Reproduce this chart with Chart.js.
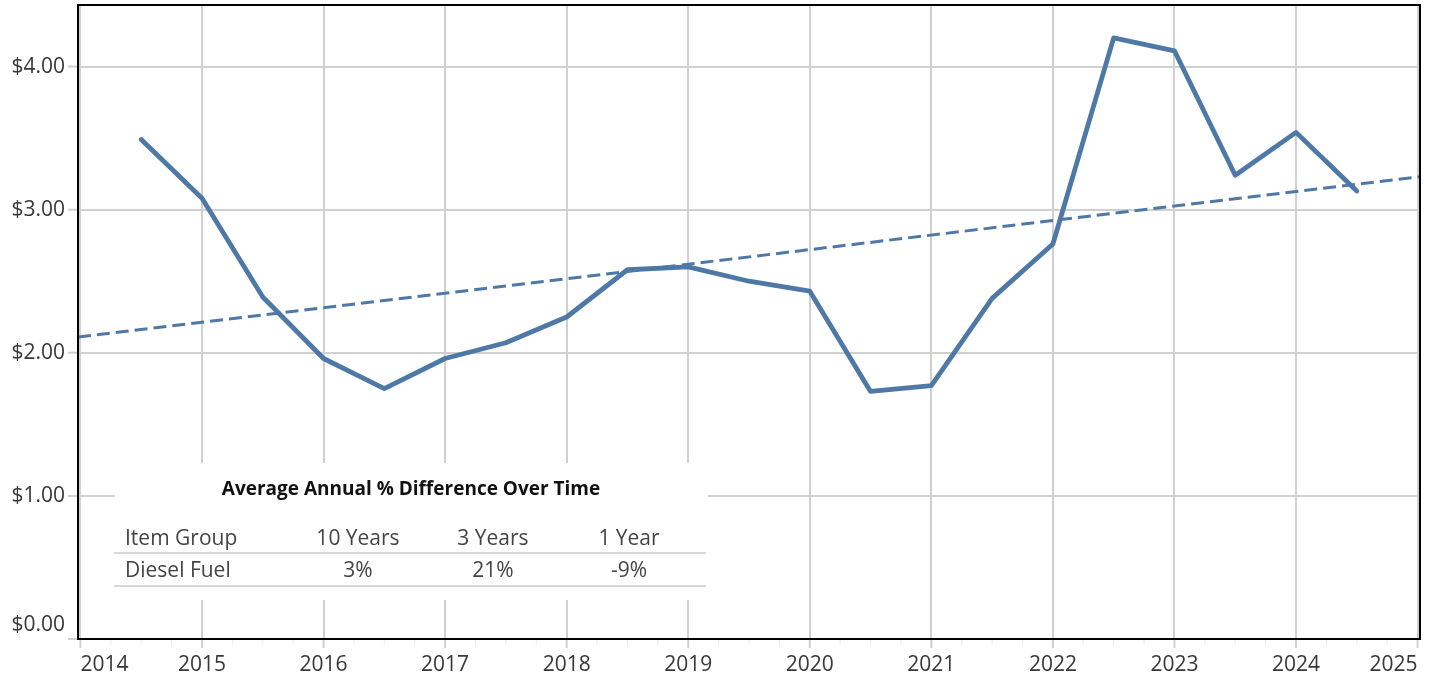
<!DOCTYPE html>
<html>
<head>
<meta charset="utf-8">
<script src="https://cdn.jsdelivr.net/npm/chart.js@4.4.1/dist/chart.umd.min.js"></script>
<style>
    html, body { margin: 0; padding: 0; background: #ffffff; }
    #wrap { width: 1434px; height: 679px; }
</style>
</head>
<body>
<div id="wrap"><canvas id="priceChart" width="1434" height="679"></canvas></div>
<script>
// half-year periods and average diesel price ($/gal)
const periods = [2014.5, 2015, 2015.5, 2016, 2016.5, 2017, 2017.5, 2018, 2018.5, 2019, 2019.5,
    2020, 2020.5, 2021, 2021.5, 2022, 2022.5, 2023, 2023.5, 2024, 2024.5];
const dieselPrice = [3.49, 3.08, 2.39, 1.96, 1.75, 1.96, 2.07, 2.25, 2.58, 2.60, 2.50,
    2.43, 1.73, 1.77, 2.38, 2.76, 4.20, 4.11, 3.24, 3.54, 3.13];

// trend line end points
const trendYears = [2013.98, 2025.02];
const trendValues = [2.11, 3.23];

const xTickYears = [2014, 2015, 2016, 2017, 2018, 2019, 2020, 2021, 2022, 2023, 2024, 2025];
const yTickValues = [0, 1, 2, 3, 4];

// summary table
const tableTitle = 'Average Annual % Difference Over Time';
const tableHeaders = ['Item Group', '10 Years', '3 Years', '1 Year'];
const tableRow = ['Diesel Fuel', '3%', '21%', '-9%'];

const FONT = '"Open Sans", "Noto Sans", sans-serif';
const LINE_COLOR = '#4e79a7';
const GRID_COLOR = '#d0d0d0';

const overlayPlugin = {
    id: 'overlay',
    beforeDatasetsDraw(chart) {
        const ctx = chart.ctx;
        // white annotation box over the grid
        ctx.save();
        ctx.fillStyle = '#ffffff';
        ctx.fillRect(115, 463, 593, 137);

        ctx.fillStyle = '#111111';
        ctx.font = 'bold 19px ' + FONT;
        ctx.textAlign = 'center';
        ctx.textBaseline = 'middle';
        ctx.fillText(tableTitle, 411, 490);

        const colX = [125, 358, 493, 629];
        ctx.font = '21px ' + FONT;
        ctx.fillStyle = '#444444';
        tableHeaders.forEach((h, i) => {
            ctx.textAlign = i === 0 ? 'left' : 'center';
            ctx.fillText(h, colX[i], 539);
        });
        tableRow.forEach((v, i) => {
            ctx.textAlign = i === 0 ? 'left' : 'center';
            ctx.fillText(v, colX[i], 571);
        });

        ctx.strokeStyle = '#cccccc';
        ctx.lineWidth = 1.5;
        ctx.beginPath();
        ctx.moveTo(114, 553);
        ctx.lineTo(706, 553);
        ctx.moveTo(114, 586);
        ctx.lineTo(706, 586);
        ctx.stroke();
        ctx.restore();
    },
    afterDraw(chart) {
        const ctx = chart.ctx;
        const area = chart.chartArea;
        const xScale = chart.scales.x;
        const yScale = chart.scales.y;
        ctx.save();

        // tick marks outside the plot
        ctx.lineWidth = 1;
        ctx.strokeStyle = '#ececec';
        ctx.beginPath();
        xTickYears.forEach((yr) => {
            for (let q = 1; q < 4; q++) {
                const v = yr + q / 4;
                if (v > xScale.max) continue;
                const px = xScale.getPixelForValue(v);
                ctx.moveTo(px, area.bottom);
                ctx.lineTo(px, area.bottom + 6);
            }
        });
        ctx.stroke();

        ctx.lineWidth = 2;
        ctx.strokeStyle = GRID_COLOR;
        ctx.beginPath();
        xScale.ticks.forEach((t) => {
            const px = xScale.getPixelForValue(t.value);
            ctx.moveTo(px, area.bottom);
            ctx.lineTo(px, area.bottom + 9);
        });
        yScale.ticks.forEach((t) => {
            const py = yScale.getPixelForValue(t.value);
            ctx.moveTo(area.left - 10, py);
            ctx.lineTo(area.left, py);
        });
        ctx.stroke();

        // frame
        ctx.strokeStyle = '#000000';
        ctx.lineWidth = 2;
        ctx.strokeRect(area.left, area.top, area.right - area.left, area.bottom - area.top);

        // tick labels
        ctx.fillStyle = '#383838';
        ctx.font = '21px ' + FONT;
        ctx.textBaseline = 'middle';
        const nx = xScale.ticks.length;
        xScale.ticks.forEach((t, i) => {
            const px = xScale.getPixelForValue(t.value);
            ctx.textAlign = i === 0 ? 'left' : (i === nx - 1 ? 'right' : 'center');
            ctx.fillText(String(t.value), px, area.bottom + 26);
        });
        ctx.textAlign = 'right';
        yScale.ticks.forEach((t) => {
            const py = Math.min(yScale.getPixelForValue(t.value), area.bottom - 14);
            ctx.fillText('$' + t.value.toFixed(2), area.left - 13, py);
        });
        ctx.restore();
    }
};

const ctx = document.getElementById('priceChart');
new Chart(ctx, {
    type: 'line',
    data: {
        datasets: [
            {
                label: 'Diesel Fuel',
                data: periods.map((p, i) => ({ x: p, y: dieselPrice[i] })),
                borderColor: LINE_COLOR,
                borderWidth: 4.8,
                borderCapStyle: 'round',
                borderJoinStyle: 'round',
                pointRadius: 0,
                tension: 0,
                fill: false
            },
            {
                label: 'Trend',
                data: trendYears.map((p, i) => ({ x: p, y: trendValues[i] })),
                borderColor: LINE_COLOR,
                borderWidth: 3,
                borderDash: [13, 6],
                pointRadius: 0,
                tension: 0,
                fill: false
            }
        ]
    },
    options: {
        responsive: false,
        animation: false,
        events: [],
        layout: { padding: { left: 78, right: 14, top: 5, bottom: 40 } },
        plugins: {
            legend: { display: false },
            tooltip: { enabled: false }
        },
        scales: {
            x: {
                type: 'linear',
                min: 2013.98,
                max: 2025.02,
                afterFit(scale) { scale.height = 0; },
                afterBuildTicks(scale) {
                    scale.ticks = xTickYears.map((v) => ({ value: v }));
                },
                ticks: { display: false },
                border: { display: false },
                grid: { color: GRID_COLOR, lineWidth: 2, drawTicks: false }
            },
            y: {
                min: 0,
                max: 4.43,
                afterFit(scale) { scale.width = 0; },
                afterBuildTicks(scale) {
                    scale.ticks = yTickValues.map((v) => ({ value: v }));
                },
                ticks: { display: false },
                border: { display: false },
                grid: { color: GRID_COLOR, lineWidth: 2, drawTicks: false }
            }
        }
    },
    plugins: [overlayPlugin]
});
</script>
</body>
</html>
